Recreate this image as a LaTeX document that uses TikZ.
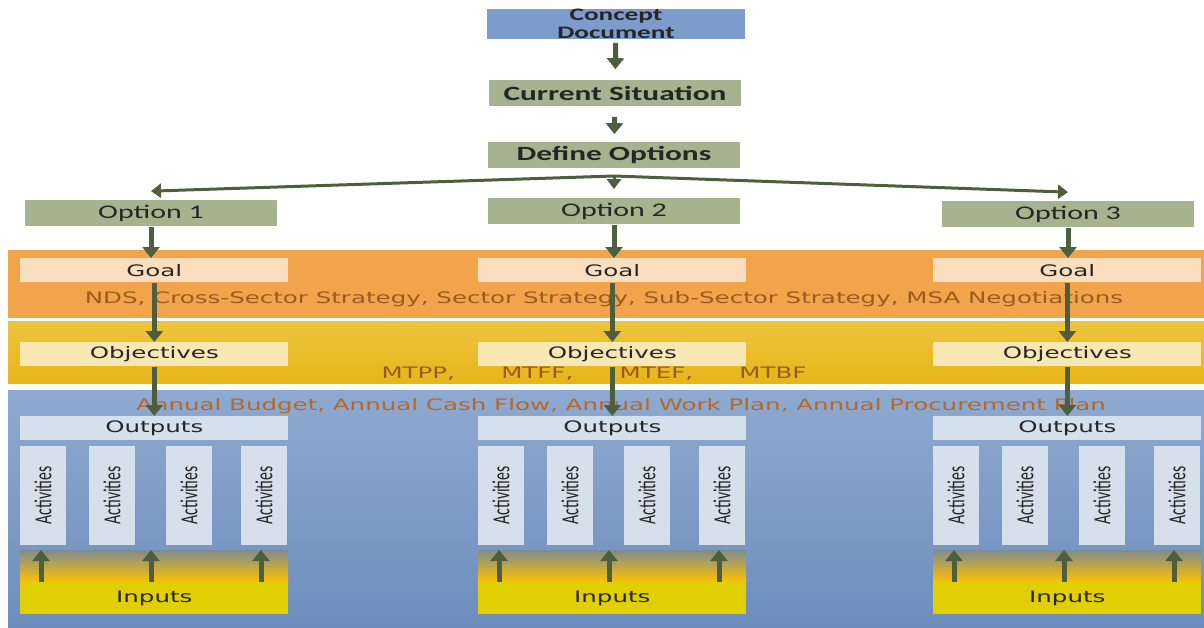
\documentclass[tikz,border=0pt]{standalone}
\usepackage{graphicx}
\usepackage{fontspec}
\setmainfont{Carlito}
\newfontfamily\widefont{DejaVu Sans}
\usetikzlibrary{arrows.meta}
\usetikzlibrary{positioning}

\newcommand{\hstretch}[1]{\scalebox{1.55}[1]{#1}}

\definecolor{arrowgreen}{HTML}{4E5F3F}
\definecolor{conceptblue}{HTML}{7C9CCB}
\definecolor{stepgreen}{HTML}{A5B38F}
\definecolor{goalband}{HTML}{F1A44B}
\definecolor{goalfill}{HTML}{FBDEBF}
\definecolor{objbandtop}{HTML}{EDC43E}
\definecolor{objbandbot}{HTML}{E8B519}
\definecolor{objfill}{HTML}{F9E8B3}
\definecolor{planbandtop}{HTML}{8FAAD0}
\definecolor{planbandbot}{HTML}{6C8DBC}
\definecolor{outfill}{HTML}{D6E0EC}
\definecolor{inputfill}{HTML}{E0CF02}
\definecolor{inputtop}{HTML}{7F8C8E}
\definecolor{inputmid}{HTML}{FFC000}
\definecolor{docbrown}{HTML}{9A5B1F}
\definecolor{planbrown}{HTML}{B4692C}

% 1 px of the picture = 0.02cm
\tikzset{arr/.style = {draw=arrowgreen, line width=0.1cm,
                       -{Triangle[length=0.22cm, width=0.34cm]}}}
\tikzset{splitarr/.style = {draw=arrowgreen, line width=0.06cm,
                            -{Triangle[length=0.2cm, width=0.28cm]}}}
\tikzset{stepbox/.style = {fill=stepgreen, inner sep=0, text=black!85,
                           minimum width=5.06cm, minimum height=0.54cm}}
\tikzset{levelbox/.style = {inner sep=0, anchor=north west, text=black!85,
                            minimum width=5.36cm, minimum height=0.48cm,
                            font=\widefont\fontsize{9pt}{10pt}\selectfont}}
\tikzset{actbox/.style = {fill=outfill, inner sep=0, rotate=90, text=black!85,
                          minimum width=1.98cm, minimum height=0.92cm,
                          font=\fontsize{9pt}{10pt}\selectfont}}
\tikzset{bandtext/.style = {inner sep=0, font=\widefont\fontsize{9pt}{10pt}\selectfont}}

\begin{document}
\begin{tikzpicture}[x=0.02cm, y=-0.02cm]
  \useasboundingbox (0,0) rectangle (1204,628);
  % bands
  \fill[goalband] (8,250) rectangle (1204,318);
  \shade[top color=objbandtop, bottom color=objbandbot] (8,322) rectangle (1204,383);
  \shade[top color=planbandtop, bottom color=planbandbot] (8,390) rectangle (1204,628);

  % top of the chain
  \node[stepbox, fill=conceptblue, minimum width=5.16cm, minimum height=0.56cm, align=center,
        font=\bfseries\fontsize{10pt}{10pt}\selectfont] (concept) at (616,24)
        {\hstretch{Concept}\\\hstretch{Document}};
  \node[stepbox, font=\bfseries\fontsize{11.5pt}{12pt}\selectfont] (current) at (615,93)
        {\hstretch{Current Situation}};
  \node[stepbox, font=\bfseries\fontsize{11.5pt}{12pt}\selectfont] (define) at (614,155)
        {\hstretch{Define Options}};
  \node[stepbox, font=\fontsize{11pt}{12pt}\selectfont] (opt1) at (151,213) {\hstretch{Option 1}};
  \node[stepbox, font=\fontsize{11pt}{12pt}\selectfont] (opt2) at (614,211) {\hstretch{Option 2}};
  \node[stepbox, font=\fontsize{11pt}{12pt}\selectfont] (opt3) at (1068,214) {\hstretch{Option 3}};
  \coordinate (split) at (614,176);

  \draw[arr, shorten <=0.08cm, shorten >=0.2cm] (concept) -- (current);
  \draw[arr, shorten <=0.2cm, shorten >=0.14cm] (current) -- (define);
  \draw[splitarr] (split) -- ([yshift=0.16cm]opt1.north);
  \draw[splitarr] (split) -- ([yshift=0.16cm]opt2.north);
  \draw[splitarr] (split) -- ([yshift=0.16cm]opt3.north);

  % band texts
  \node[bandtext, text=docbrown] (strategy) at (604,299)
    {\hstretch{NDS, Cross-Sector Strategy, Sector Strategy, Sub-Sector Strategy, MSA Negotiations}};
  \node[bandtext, text=docbrown] (mtf) at (594,374)
    {\hstretch{MTPP,\hspace{17pt}MTFF,\hspace{17pt}MTEF,\hspace{17pt}MTBF}};
  \node[bandtext, text=planbrown] (annual) at (621,406)
    {\hstretch{Annual Budget, Annual Cash Flow, Annual Work Plan, Annual Procurement Plan}};

  % one column per option
  \foreach \c/\L in {1/20, 2/478, 3/933} {
    \node[levelbox, fill=goalfill] (goal\c) at (\L,258) {\hstretch{Goal}};
    \node[levelbox, fill=objfill] (obj\c) at (\L,342) {\hstretch{Objectives}};
    \node[levelbox, fill=outfill] (out\c) at (\L,416) {\hstretch{Outputs}};
    \foreach \k/\d in {1/0, 2/69, 3/146, 4/221}
      \node[actbox] (act\c\k) at (\L+\d+23,495.5) {\scalebox{1}[1.55]{Activities}};
    \shade[top color=inputtop, bottom color=inputmid] (\L,550) rectangle ++(268,32);
    \node[levelbox, fill=inputfill, minimum height=0.64cm] (inp\c) at (\L,582) {\hstretch{Inputs}};
    \foreach \d in {21,131,241}
      \draw[arr] ([xshift=\d*0.02cm]inp\c.north west) -- ++(0,-32);
    \draw[arr] (opt\c) -- (opt\c |- goal\c.north);
    \draw[arr] (goal\c) -- (goal\c |- obj\c.north);
    \draw[arr] (obj\c) -- (obj\c |- out\c.north);
  }
\end{tikzpicture}
\end{document}
